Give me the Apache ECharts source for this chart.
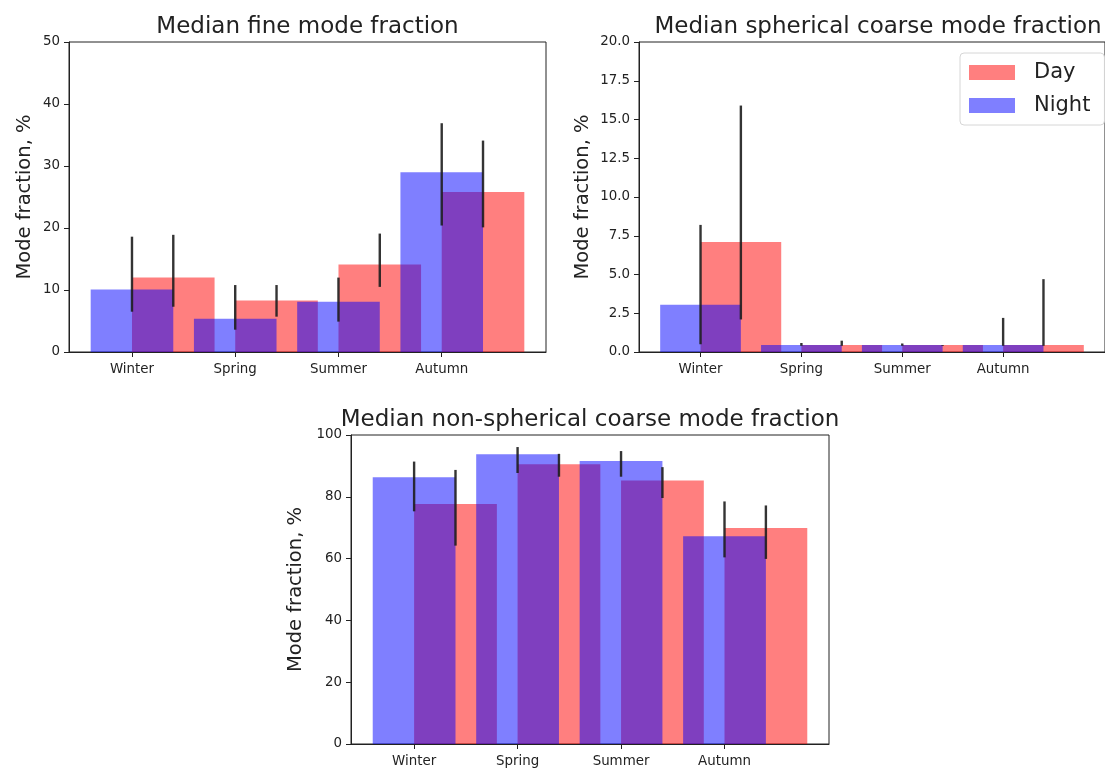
<!DOCTYPE html>
<html>
<head>
<meta charset="utf-8">
<script src="https://cdn.jsdelivr.net/npm/echarts@6/dist/echarts.min.js"></script>
<style>
html,body{margin:0;padding:0;background:#fff;}
#chart{width:1105px;height:768px;}
</style>
</head>
<body>
<div id="chart"></div>
<script>
// ---- data ----
const seasons = ['Winter', 'Spring', 'Summer', 'Autumn'];
const tickPositions = [0, 1, 2, 3];

// Median fine mode fraction
const fineDay = [12.0, 8.3, 14.1, 25.8];
const fineDayLo = [7.3, 5.7, 10.5, 20.1];
const fineDayHi = [18.9, 10.8, 19.1, 34.1];
const fineNight = [10.1, 5.35, 8.1, 29.0];
const fineNightLo = [6.5, 3.6, 4.9, 20.4];
const fineNightHi = [18.6, 10.8, 12.0, 36.9];

// Median spherical coarse mode fraction
const sphDay = [7.1, 0.45, 0.45, 0.45];
const sphDayLo = [2.1, 0.4, 0.4, 0.4];
const sphDayHi = [15.9, 0.73, 0.45, 4.7];
const sphNight = [3.05, 0.45, 0.45, 0.45];
const sphNightLo = [0.5, 0.4, 0.4, 0.4];
const sphNightHi = [8.2, 0.58, 0.55, 2.2];

// Median non-spherical coarse mode fraction
const nsDay = [77.7, 90.5, 85.3, 69.9];
const nsDayLo = [64.2, 86.5, 79.6, 59.9];
const nsDayHi = [88.7, 93.9, 89.6, 77.2];
const nsNight = [86.3, 93.8, 91.6, 67.2];
const nsNightLo = [75.3, 87.7, 86.5, 60.4];
const nsNightHi = [91.4, 96.1, 94.8, 78.5];

const titles = ['Median fine mode fraction', 'Median spherical coarse mode fraction', 'Median non-spherical coarse mode fraction'];
const yLabel = 'Mode fraction, %';

// ---- styling ----
const FONT = 'DejaVu Sans';
const TXT = '#222';
const DAY_COLOR = 'rgba(255,0,0,0.5)';
const NIGHT_COLOR = 'rgba(0,0,255,0.5)';
const BAR_W = 0.8;
const DAY_OFFSET = 0.4;

const grids = [
  {left: 69, top: 42, width: 477, height: 310},
  {left: 639, top: 42, width: 478, height: 310},
  {left: 351, top: 435, width: 478, height: 310}
];

function barRender(offset) {
  return function (params, api) {
    const x = api.value(0) + offset;
    const y = api.value(1);
    const p0 = api.coord([x - BAR_W / 2, y]);
    const p1 = api.coord([x + BAR_W / 2, 0]);
    return {
      type: 'rect',
      shape: {x: p0[0], y: p0[1], width: p1[0] - p0[0], height: p1[1] - p0[1]},
      style: {fill: api.visual('color')}
    };
  };
}
function errRender(offset) {
  return function (params, api) {
    const x = api.value(0) + offset;
    const a = api.coord([x, api.value(1)]);
    const b = api.coord([x, api.value(2)]);
    return {
      type: 'line',
      shape: {x1: a[0], y1: a[1], x2: b[0], y2: b[1]},
      style: {stroke: '#1e1e1e', lineWidth: 2.4, opacity: 0.9}
    };
  };
}

const panels = [
  {day: fineDay, dayLo: fineDayLo, dayHi: fineDayHi, night: fineNight, nightLo: fineNightLo, nightHi: fineNightHi, ymax: 50, interval: 10, dec: 0, gap: 34},
  {day: sphDay, dayLo: sphDayLo, dayHi: sphDayHi, night: sphNight, nightLo: sphNightLo, nightHi: sphNightHi, ymax: 20, interval: 2.5, dec: 1, gap: 46},
  {day: nsDay, dayLo: nsDayLo, dayHi: nsDayHi, night: nsNight, nightLo: nsNightLo, nightHi: nsNightHi, ymax: 100, interval: 20, dec: 0, gap: 45}
];

const option = {
  backgroundColor: '#fff',
  animation: false,
  title: titles.map((t, i) => ({
    text: t,
    left: grids[i].left + grids[i].width / 2,
    top: grids[i].top - 26,
    textAlign: 'center',
    padding: 0,
    textStyle: {fontFamily: FONT, fontSize: 23, fontWeight: 'normal', color: TXT}
  })),
  legend: {
    left: 960, top: 53,
    orient: 'vertical',
    data: [
      {name: 'Day', icon: 'rect', itemStyle: {color: DAY_COLOR}},
      {name: 'Night', icon: 'rect', itemStyle: {color: NIGHT_COLOR}}
    ],
    itemWidth: 46, itemHeight: 15, itemGap: 12,
    padding: [9, 14, 9, 9],
    borderColor: '#d6d6d6', borderWidth: 1, borderRadius: 4,
    backgroundColor: 'rgba(255,255,255,0.85)',
    textStyle: {fontFamily: FONT, fontSize: 21, color: TXT, padding: [0, 0, 0, 14]},
    selectedMode: false
  },
  grid: grids.map(g => Object.assign({show: true, borderColor: '#222', borderWidth: 1, containLabel: false}, g)),
  xAxis: panels.map((p, i) => ({
    type: 'value', gridIndex: i, min: -0.61, max: 4.01,
    splitLine: {show: false},
    axisLine: {show: true, onZero: false, lineStyle: {color: '#222', width: 1}},
    axisTick: {show: true, inside: false, length: 5, customValues: tickPositions, lineStyle: {color: '#222', width: 1}},
    axisLabel: {show: true, customValues: tickPositions, margin: 11, fontFamily: FONT, fontSize: 13.4, color: TXT,
      formatter: v => seasons[Math.round(v)] || ''}
  })),
  yAxis: panels.map((p, i) => ({
    type: 'value', gridIndex: i, min: 0, max: p.ymax, interval: p.interval,
    splitLine: {show: false},
    axisLine: {show: true, onZero: false, lineStyle: {color: '#222', width: 1}},
    axisTick: {show: true, inside: false, length: 5, lineStyle: {color: '#222', width: 1}},
    axisLabel: {margin: 9, fontFamily: FONT, fontSize: 13.4, color: TXT, formatter: v => v.toFixed(p.dec)},
    name: yLabel, nameLocation: 'middle', nameGap: p.gap, nameRotate: 90,
    nameTextStyle: {fontFamily: FONT, fontSize: 19.5, color: TXT}
  })),
  series: []
};

panels.forEach((p, i) => {
  option.series.push({
    type: 'custom', name: 'Day', xAxisIndex: i, yAxisIndex: i,
    itemStyle: {color: DAY_COLOR},
    renderItem: barRender(DAY_OFFSET),
    data: p.day.map((v, k) => [tickPositions[k], v]),
    encode: {x: 0, y: 1}, silent: true
  });
  option.series.push({
    type: 'custom', name: 'Night', xAxisIndex: i, yAxisIndex: i,
    itemStyle: {color: NIGHT_COLOR},
    renderItem: barRender(0),
    data: p.night.map((v, k) => [tickPositions[k], v]),
    encode: {x: 0, y: 1}, silent: true
  });
});
panels.forEach((p, i) => {
  option.series.push({
    type: 'custom', name: 'dayErr' + i, xAxisIndex: i, yAxisIndex: i,
    renderItem: errRender(DAY_OFFSET),
    data: p.dayLo.map((v, k) => [tickPositions[k], v, p.dayHi[k]]),
    encode: {x: 0, y: [1, 2]}, silent: true
  });
  option.series.push({
    type: 'custom', name: 'nightErr' + i, xAxisIndex: i, yAxisIndex: i,
    renderItem: errRender(0),
    data: p.nightLo.map((v, k) => [tickPositions[k], v, p.nightHi[k]]),
    encode: {x: 0, y: [1, 2]}, silent: true
  });
});

const chart = echarts.init(document.getElementById('chart'), null, {renderer: 'canvas'});
chart.setOption(option);
</script>
</body>
</html>
